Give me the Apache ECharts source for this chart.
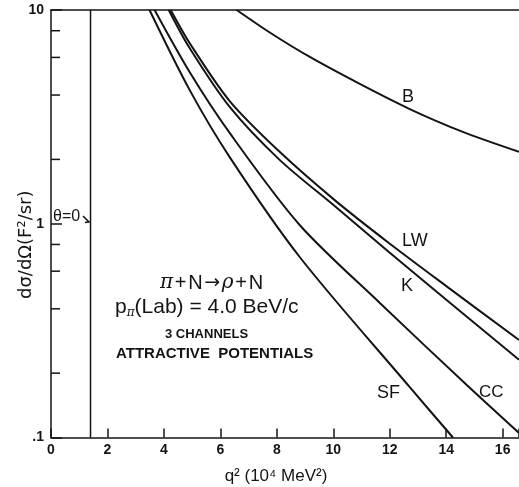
<!DOCTYPE html>
<html><head><meta charset="utf-8">
<script src="https://cdn.jsdelivr.net/npm/echarts@6/dist/echarts.min.js"></script>
<style>html,body{margin:0;padding:0;background:#fff;}#c{width:519px;height:487px;}</style>
</head><body><div id="c"></div>
<script>
// ---- data ----
const xTicks = [0, 2, 4, 6, 8, 10, 12, 14, 16];
const yTickLabels = {"10": "10", "1": "1", "0.1": ".1"};
const minorTickValues = [2, 4, 6, 8, 0.2, 0.4, 0.6, 0.8];
const thetaZeroX = 1.4;
const curveB_x  = [6.58, 7.75, 9.17, 10.94, 12.71, 14.59, 16.58];
const curveB_y  = [10, 7.85, 6.03, 4.51, 3.44, 2.69, 2.17];
const curveLW_x = [4.24, 4.91, 6.33, 8.10, 10.05, 11.97, 14.10, 16.58];
const curveLW_y = [10, 7.01, 3.75, 2.17, 1.29, 0.813, 0.500, 0.286];
const curveK_x  = [4.17, 4.91, 6.33, 8.10, 10.05, 11.97, 14.10, 16.58];
const curveK_y  = [10, 6.64, 3.52, 1.99, 1.21, 0.738, 0.430, 0.231];
const curveCC_x = [3.67, 4.91, 6.33, 8.81, 11.65, 14.73, 16.58];
const curveCC_y = [10, 5.13, 2.66, 0.987, 0.426, 0.176, 0.105];
const curveSF_x = [3.49, 4.91, 6.33, 8.81, 12.71, 14.24];
const curveSF_y = [10, 4.23, 2.05, 0.699, 0.172, 0.1];

const zip = (xs, ys) => xs.map((x, i) => [x, ys[i]]);
const ink = '#141414';
const font = "'Liberation Sans', Arial, sans-serif";

const chart = echarts.init(document.getElementById('c'));
function curve(name, xs, ys) {
  return {name, type: 'line', data: zip(xs, ys), showSymbol: false, smooth: 0.3,
    lineStyle: {color: ink, width: 2}, clip: true, silent: true, z: 3};
}
chart.setOption({
  animation: false,
  backgroundColor: '#fff',
  grid: {left: 51, top: 10, right: 0, bottom: 49.5, containLabel: false, outerBoundsMode: 'none'},
  xAxis: [{
    type: 'value', min: 0, max: 16.58, interval: 2,
    axisLine: {lineStyle: {color: ink, width: 1.5}},
    axisTick: {inside: true, length: 9, lineStyle: {color: ink, width: 1.5}},
    axisLabel: {margin: 6, color: ink, fontFamily: font, fontWeight: 'bold', fontSize: 14,
      formatter: v => xTicks.includes(v) ? String(v) : ''},
    splitLine: {show: false},
    name: 'q\u00b2 (10\u2074 MeV\u00b2)', nameLocation: 'middle', nameGap: 30, nameMoveOverlap: false,
    nameTextStyle: {color: ink, fontFamily: font, fontSize: 17, padding: [0, 18, 0, 0]}
  }, {
    type: 'value', position: 'top', min: 0, max: 16.58,
    axisLine: {show: true, lineStyle: {color: ink, width: 1.5}},
    axisTick: {show: false}, axisLabel: {show: false}, splitLine: {show: false}
  }],
  yAxis: {
    type: 'log', logBase: 10, min: 0.1, max: 10,
    axisLine: {show: true, lineStyle: {color: ink, width: 1.5}},
    axisTick: {show: true, inside: true, length: 11, lineStyle: {color: ink, width: 1.5}},
    axisLabel: {color: ink, fontFamily: font, fontWeight: 'bold', fontSize: 14, margin: 7,
      formatter: v => yTickLabels[String(+(+v).toPrecision(3))] || ''},
    splitLine: {show: false},
    name: 'd\u03c3/d\u03a9(F\u00b2/sr)', nameLocation: 'middle', nameGap: 16, nameRotate: 90, nameMoveOverlap: false,
    nameTextStyle: {color: ink, fontFamily: "'DejaVu Sans', sans-serif", fontSize: 18, padding: [0, 42, 0, 0]}
  },
  series: [
    curve('B', curveB_x, curveB_y),
    curve('LW', curveLW_x, curveLW_y),
    curve('K', curveK_x, curveK_y),
    curve('CC', curveCC_x, curveCC_y),
    curve('SF', curveSF_x, curveSF_y),
    {type: 'line', data: [[thetaZeroX, 0.1], [thetaZeroX, 10]], showSymbol: false,
     lineStyle: {color: ink, width: 1.5}, silent: true},
    {type: 'custom', silent: true, data: minorTickValues.map(v => [0, v]),
     renderItem: (params, api) => {
       const p = api.coord([0, api.value(1)]);
       return {type: 'line', shape: {x1: p[0], y1: p[1], x2: p[0] + 9, y2: p[1]},
         style: {stroke: ink, lineWidth: 1.5}};
     }}
  ],
  graphic: [
    {type: 'text', left: 402, top: 88, style: {text: 'B', font: "18px " + font, fill: ink}},
    {type: 'text', left: 402, top: 232, style: {text: 'LW', font: "18px " + font, fill: ink}},
    {type: 'text', left: 401, top: 277, style: {text: 'K', font: "18px " + font, fill: ink}},
    {type: 'text', left: 377, top: 384, style: {text: 'SF', font: "18px " + font, fill: ink}},
    {type: 'text', left: 479, top: 384, style: {text: 'CC', font: "17px " + font, fill: ink}},
    {type: 'text', left: 53, top: 209, style: {text: '\u03b8=0', font: "16px " + font, fill: ink}},
    {type: 'polyline', shape: {points: [[83, 216], [89, 222], [85, 222.5]]}, style: {stroke: ink, lineWidth: 1.5, fill: null}},
    {type: 'text', left: 160, top: 273, style: {rich: {
      i: {font: "italic 20px 'DejaVu Serif', serif", fill: ink},
      a: {font: "19px 'DejaVu Sans', sans-serif", fill: ink},
      n: {font: "20px " + font, fill: ink}},
      text: '{i|\u03c0}{n|\u200a+\u200aN\u200a}{a|\u2192}{n|\u200a}{i|\u03c1}{n|\u200a+\u200aN}'}},
    {type: 'text', left: 115, top: 297, style: {rich: {
      n: {font: "21px " + font, fill: ink},
      s: {font: "italic 12px 'DejaVu Serif', serif", fill: ink, padding: [10, 0, 0, 0]}},
      text: '{n|p}{s|\u03c0}{n|(Lab) = 4.0 BeV/c}'}},
    {type: 'text', left: 165, top: 328, style: {text: '3 CHANNELS', font: "bold 13px " + font, fill: ink}},
    {type: 'text', left: 116, top: 346, style: {text: 'ATTRACTIVE  POTENTIALS', font: "bold 15px " + font, fill: ink}}
  ]
});
</script></body></html>
